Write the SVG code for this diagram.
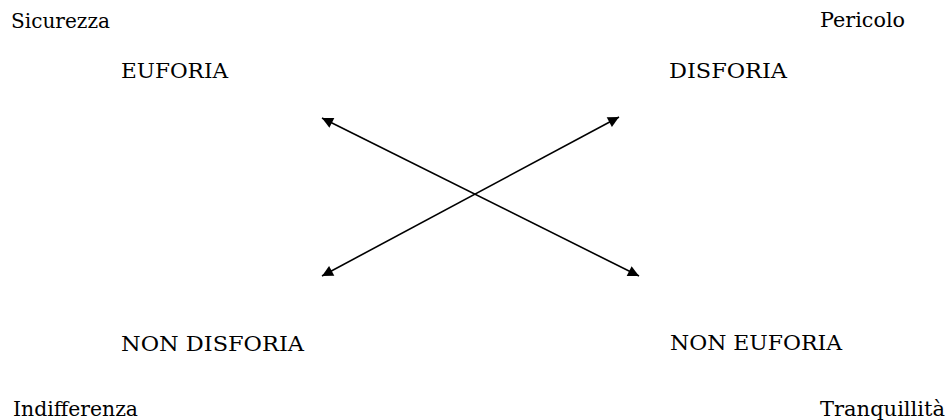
<svg xmlns="http://www.w3.org/2000/svg" width="949" height="420" viewBox="0 0 949 420">
<style>
text{font-family:"DejaVu Serif","Liberation Serif",serif;font-size:21px;fill:#000}
.c{stroke:#000;stroke-width:1.6;fill:none}
</style>
<defs>
<marker id="ah" viewBox="0 0 10 10" refX="10" refY="5" markerWidth="12" markerHeight="11" markerUnits="userSpaceOnUse" orient="auto-start-reverse">
<path d="M0,0 L10,5 L0,10 z" fill="#000"/>
</marker>
</defs>
<rect width="949" height="420" fill="#fff"/>
<g id="connectors">
<line class="c" x1="322" y1="118" x2="639" y2="276" marker-start="url(#ah)" marker-end="url(#ah)"/>
<line class="c" x1="619" y1="117" x2="322" y2="276" marker-start="url(#ah)" marker-end="url(#ah)"/>
</g>
<g id="sicurezza"><text x="11" y="28" textLength="99" lengthAdjust="spacingAndGlyphs">Sicurezza</text></g>
<g id="pericolo"><text x="820" y="27" textLength="85" lengthAdjust="spacingAndGlyphs">Pericolo</text></g>
<g id="euforia"><text x="121" y="78" textLength="107" lengthAdjust="spacingAndGlyphs">EUFORIA</text></g>
<g id="disforia"><text x="669" y="78" textLength="118" lengthAdjust="spacingAndGlyphs">DISFORIA</text></g>
<g id="non-disforia"><text x="121" y="351" textLength="183" lengthAdjust="spacingAndGlyphs">NON DISFORIA</text></g>
<g id="non-euforia"><text x="670" y="350" textLength="172" lengthAdjust="spacingAndGlyphs">NON EUFORIA</text></g>
<g id="indifferenza"><text x="13" y="416" textLength="125" lengthAdjust="spacingAndGlyphs">Indifferenza</text></g>
<g id="tranquillita"><text x="820" y="416" textLength="125" lengthAdjust="spacingAndGlyphs">Tranquillità</text></g>
</svg>
